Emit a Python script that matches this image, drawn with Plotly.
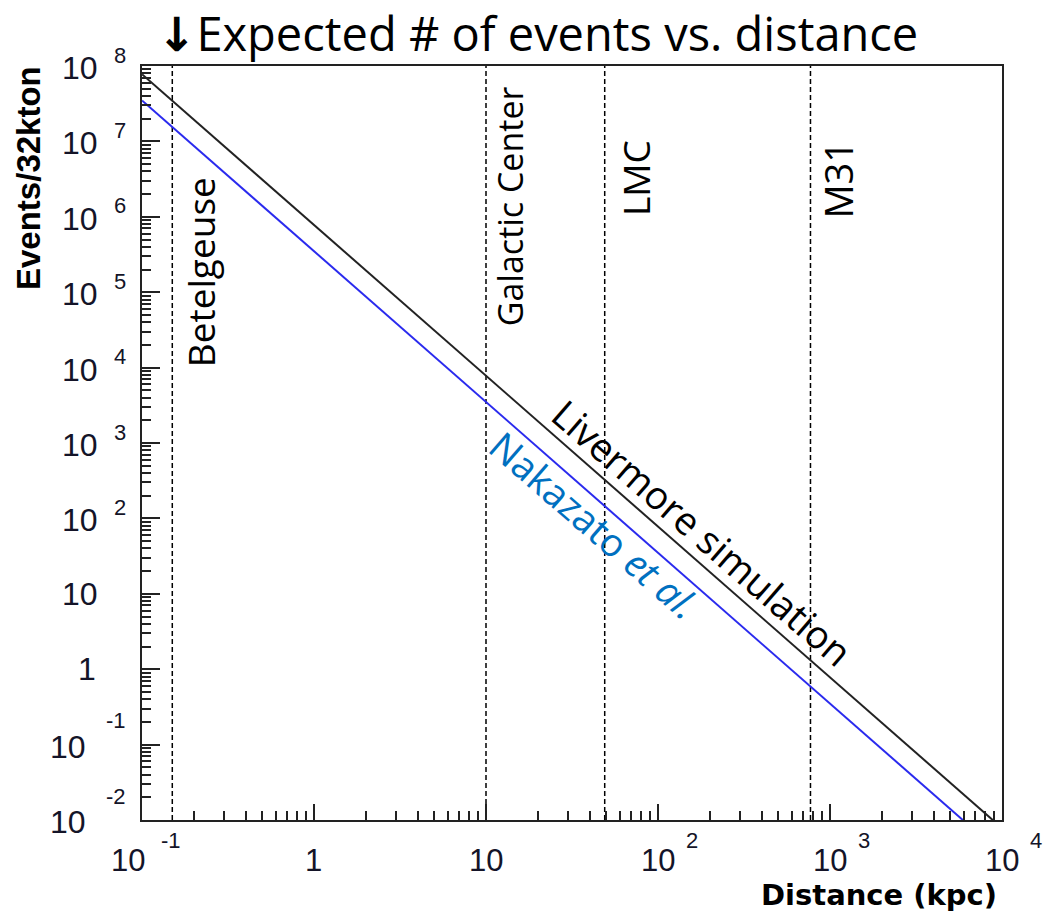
import math
import plotly.graph_objects as go

# Supernova neutrino event counts in a 32 kton detector vs. source distance
distance_kpc = [0.1, 1e4]
livermore_events = [7.8e7, 7.8e-3]
nakazato_events = [3.5e7, 3.5e-3]

# Reference distances of candidate sources (kpc)
source_names = ["Betelgeuse", "Galactic Center", "LMC", "M31"]
source_dist = [0.15, 10, 49, 770]

# Decade ticks
x_exps = [-1, 0, 1, 2, 3, 4]
y_exps = [8, 7, 6, 5, 4, 3, 2, 1, 0, -1, -2]

TEXT_FONT = "Open Sans"
AXIS_FONT = "Liberation Sans, Arial"
LABEL_COLOR = "#141428"

fig = go.Figure()

for d in source_dist:
    fig.add_trace(go.Scatter(
        x=[d, d], y=[1e-2, 1e8], mode="lines",
        line=dict(color="black", width=1.5, dash="5px,3px"),
        showlegend=False, hoverinfo="skip"))

fig.add_trace(go.Scatter(x=distance_kpc, y=livermore_events, mode="lines",
                         line=dict(color="#222222", width=2), showlegend=False))
fig.add_trace(go.Scatter(x=distance_kpc, y=nakazato_events, mode="lines",
                         line=dict(color="#2a2aee", width=2), showlegend=False))

ann = []

# Y-axis decade labels in "10 ^n" style
for e in y_exps:
    if e == 0:
        ann.append(dict(xref="paper", x=0, yref="y", y=e, text="1", showarrow=False,
                        xanchor="right", yanchor="middle", xshift=-44,
                        font=dict(family=AXIS_FONT, size=32, color=LABEL_COLOR)))
        continue
    if e == 1:
        ann.append(dict(xref="paper", x=0, yref="y", y=e, text="10", showarrow=False,
                        xanchor="right", yanchor="middle", xshift=-42,
                        font=dict(family=AXIS_FONT, size=32, color=LABEL_COLOR)))
        continue
    neg = e < 0
    ann.append(dict(xref="paper", x=0, yref="y", y=e, text="10", showarrow=False,
                    xanchor="right", yanchor="middle",
                    xshift=-54 if neg else -42, yshift=-2,
                    font=dict(family=AXIS_FONT, size=32, color=LABEL_COLOR)))
    ann.append(dict(xref="paper", x=0, yref="y", y=e, text=str(e),
                    showarrow=False, xanchor="right", yanchor="middle",
                    xshift=-14, yshift=24 if neg else 11,
                    font=dict(family=AXIS_FONT, size=22, color=LABEL_COLOR)))

# X-axis decade labels
for e in x_exps:
    if e == 0:
        ann.append(dict(xref="x", x=e, yref="paper", y=0, text="1", showarrow=False,
                        xanchor="center", yanchor="middle", yshift=-40, xshift=-1,
                        font=dict(family=AXIS_FONT, size=31, color=LABEL_COLOR)))
        continue
    if e == 1:
        ann.append(dict(xref="x", x=e, yref="paper", y=0, text="10", showarrow=False,
                        xanchor="center", yanchor="middle", yshift=-40,
                        font=dict(family=AXIS_FONT, size=31, color=LABEL_COLOR)))
        continue
    neg = e < 0
    ann.append(dict(xref="x", x=e, yref="paper", y=0, text="10", showarrow=False,
                    xanchor="center", yanchor="middle", yshift=-40,
                    xshift=-14 if neg else 0,
                    font=dict(family=AXIS_FONT, size=31, color=LABEL_COLOR)))
    ann.append(dict(xref="x", x=e, yref="paper", y=0, text=str(e), showarrow=False,
                    xanchor="left", yanchor="middle", yshift=-20,
                    xshift=17 if neg else 26,
                    font=dict(family=AXIS_FONT, size=22, color=LABEL_COLOR)))

# Axis titles
ann.append(dict(xref="paper", x=1, yref="paper", y=0, text="<b>Distance (kpc)</b>",
                showarrow=False, xanchor="right", yanchor="middle", xshift=-4, yshift=-75,
                borderpad=0,
                font=dict(family="DejaVu Sans", size=29, color="black")))
ann.append(dict(xref="paper", x=0, yref="paper", y=1, text="<b>Events/32kton</b>",
                showarrow=False, xanchor="center", yanchor="middle", textangle=-90,
                xshift=-114, yshift=-112,
                font=dict(family=AXIS_FONT, size=33, color="black")))

# Source labels next to the dashed distance markers
label_style = {"Betelgeuse": (29, 0.727, 37), "Galactic Center": (24, 0.814, 34),
               "LMC": (31, 0.851, 37), "M31": (28, 0.85, 38)}
for name, d in zip(source_names, source_dist):
    dx, py, fs = label_style[name]
    ann.append(dict(xref="x", x=math.log10(d), yref="paper", y=py, text=name,
                    showarrow=False, textangle=-90, xanchor="center", yanchor="middle",
                    xshift=dx, font=dict(family=TEXT_FONT, size=fs, color="black")))

# Curve labels
ann.append(dict(xref="x", x=2.256, yref="y", y=1.82, text="Livermore simulation",
                showarrow=False, textangle=41, xanchor="center", yanchor="middle",
                font=dict(family=TEXT_FONT, size=38.5, color="black")))
ann.append(dict(xref="x", x=1.622, yref="y", y=1.846, text="Nakazato <i>et al.</i>",
                showarrow=False, textangle=41, xanchor="center", yanchor="middle",
                xshift=2, yshift=5,
                font=dict(family=TEXT_FONT, size=38.5, color="#0070c0")))

# Title
ann.append(dict(xref="paper", x=0.5, yref="paper", y=1, showarrow=False,
                text='<span style="font-family:DejaVu Sans;font-weight:bold">\u2193</span>'
                     'Expected # of events vs. distance',
                xanchor="center", yanchor="middle", xshift=-35, yshift=33,
                font=dict(family=TEXT_FONT, size=47, color="black")))

axis_common = dict(
    type="log", showgrid=False, zeroline=False, showline=True, mirror=True,
    linecolor="#222222", linewidth=2, ticks="inside", tickcolor="#222222", tickwidth=2,
    showticklabels=False, tickmode="linear", tick0=0, dtick=1,
    minor=dict(ticks="inside", ticklen=9, tickcolor="#222222", tickwidth=2, dtick="D1",
               showgrid=False),
)

fig.update_layout(
    width=1046, height=913,
    margin=dict(l=142, r=44, t=66, b=93),
    paper_bgcolor="white", plot_bgcolor="white",
    xaxis=dict(range=[-1, 4], ticklen=16, **axis_common),
    yaxis=dict(range=[-2, 8], ticklen=18, **axis_common),
    annotations=ann,
)

fig.write_html("out.html")
